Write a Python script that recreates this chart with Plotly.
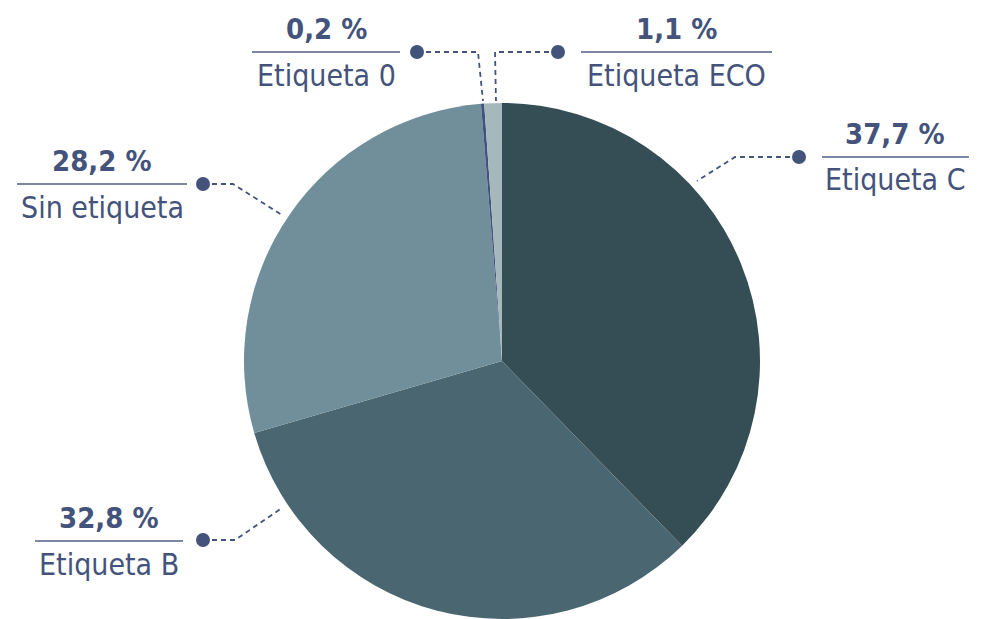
import plotly.graph_objects as go

# Data
labels = ["Etiqueta C", "Etiqueta B", "Sin etiqueta", "Etiqueta 0", "Etiqueta ECO"]
values = [37.7, 32.8, 28.2, 0.2, 1.1]
value_text = ["37,7 %", "32,8 %", "28,2 %", "0,2 %", "1,1 %"]
colors = ["#354e56", "#4a6670", "#708f9a", "#3f5280", "#a5b8bc"]

W, H = 984, 619
R = 258
CX, CY = 502, 361

def px(x):
    return x / W

def py(y):
    return (H - y) / H

TEXT = "#44537b"
RULE = "#7b87a3"
FONT = "DejaVu Sans Condensed, DejaVu Sans, sans-serif"

fig = go.Figure()
fig.add_trace(go.Pie(
    labels=labels, values=values, sort=False, direction="clockwise", rotation=0,
    marker=dict(colors=colors, line=dict(width=0)),
    textinfo="none", hoverinfo="label+percent", showlegend=False,
    domain=dict(x=[px(CX - R), px(CX + R)], y=[py(CY + R), py(CY - R)]),
))

# label layout: (center x, rule y, rule x0, rule x1, dot, leader path points)
layout_info = {
    "Etiqueta C": dict(cx=895, ry=157, x0=822, x1=969, dot=(799, 157), path=[(799, 157), (735, 157), (697, 181)]),
    "Etiqueta B": dict(cx=109, ry=541, x0=35, x1=183, dot=(203, 540), path=[(203, 540), (235, 540), (282, 508)]),
    "Sin etiqueta": dict(cx=102, ry=184, x0=17, x1=187, dot=(203, 184), path=[(203, 184), (233, 184), (282, 215)]),
    "Etiqueta 0": dict(cx=326, ry=52, x0=252, x1=400, dot=(417, 52), path=[(417, 52), (478, 52), (483, 101)]),
    "Etiqueta ECO": dict(cx=676, ry=52, x0=581, x1=772, dot=(558, 52), path=[(558, 52), (495, 52), (496, 101)]),
}

shapes = []
annotations = []
for lab, vt in zip(labels, value_text):
    info = layout_info[lab]
    shapes.append(dict(type="line", xref="paper", yref="paper",
                       x0=px(info["x0"]), x1=px(info["x1"]), y0=py(info["ry"]), y1=py(info["ry"]),
                       line=dict(color=RULE, width=2)))
    pts = info["path"]
    d = "M " + " L ".join(f"{px(x)},{py(y)}" for x, y in pts)
    shapes.append(dict(type="path", xref="paper", yref="paper", path=d,
                       line=dict(color=TEXT, width=1.8, dash="5px,4px")))
    dx, dy = info["dot"]
    r = 7
    shapes.append(dict(type="circle", xref="paper", yref="paper",
                       x0=px(dx - r), x1=px(dx + r), y0=py(dy + r), y1=py(dy - r),
                       fillcolor=TEXT, line=dict(width=0)))
    annotations.append(dict(xref="paper", yref="paper", x=px(info["cx"]), y=py(info["ry"] - 23),
                            text=f"<b>{vt}</b>", showarrow=False, xanchor="center", yanchor="middle",
                            font=dict(family=FONT, size=29, color=TEXT)))
    annotations.append(dict(xref="paper", yref="paper", x=px(info["cx"]), y=py(info["ry"] + 23),
                            text=lab, showarrow=False, xanchor="center", yanchor="middle",
                            font=dict(family=FONT, size=30, color=TEXT)))

fig.update_layout(
    width=W, height=H, margin=dict(l=0, r=0, t=0, b=0),
    paper_bgcolor="white", plot_bgcolor="white",
    shapes=shapes, annotations=annotations,
)

fig.write_html("out.html")
